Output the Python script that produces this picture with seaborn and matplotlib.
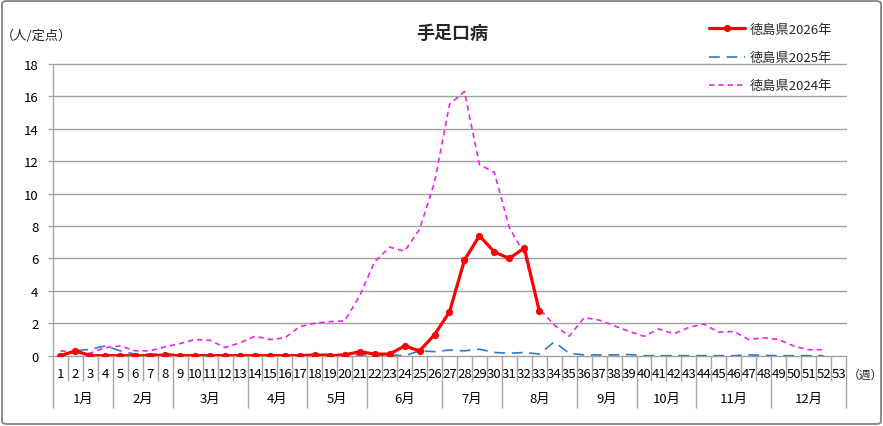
import matplotlib
matplotlib.use('Agg')
import matplotlib.pyplot as plt
from matplotlib.patches import FancyBboxPatch
import pandas as pd
import seaborn as sns

# ---------------- data ----------------
weeks = list(range(1, 54))
week_labels = [str(w) for w in weeks]
months = ['1月', '2月', '3月', '4月', '5月', '6月', '7月', '8月', '9月', '10月', '11月', '12月']
month_week_counts = [4, 4, 5, 4, 4, 5, 4, 5, 4, 4, 5, 5]
y_ticks = [0, 2, 4, 6, 8, 10, 12, 14, 16, 18]

series_names = ['徳島県2026年', '徳島県2025年', '徳島県2024年']

tokushima_2026 = [0, 0.3, 0, 0, 0, 0, 0, 0.05, 0, 0, 0, 0, 0, 0, 0, 0, 0, 0.05, 0, 0.05,
                  0.25, 0.1, 0.1, 0.6, 0.3, 1.3, 2.7, 5.9, 7.4, 6.4, 6.0, 6.65, 2.75]

tokushima_2025 = [0, 0.3, 0.4, 0.6, 0.3, 0.1, 0.1, 0.1, 0.05, 0.05, 0.05, 0.05, 0.05, 0.05,
                  0.05, 0.05, 0.05, 0.05, 0.1, 0.05, 0.05, 0.05, 0.05, 0.0, 0.3, 0.25, 0.35,
                  0.3, 0.4, 0.2, 0.15, 0.2, 0.1, 0.85, 0.15, 0.05, 0.05, 0.05, 0.07, 0, 0, 0,
                  0, 0, 0, 0, 0.05, 0.02, 0, 0, 0, 0]

tokushima_2024 = [0.3, 0.2, 0.15, 0.5, 0.6, 0.3, 0.3, 0.55, 0.75, 1.0, 0.95, 0.5, 0.8, 1.2,
                  1.0, 1.1, 1.8, 2.0, 2.1, 2.15, 3.7, 5.8, 6.7, 6.45, 7.8, 10.7, 15.5, 16.3,
                  11.8, 11.3, 7.9, 6.3, 2.9, 1.9, 1.2, 2.35, 2.2, 1.85, 1.5, 1.2, 1.65, 1.35,
                  1.75, 1.95, 1.45, 1.5, 1.0, 1.1, 1.0, 0.6, 0.37, 0.37]

# ---------------- style ----------------
sns.set_theme(style='white')
plt.rcParams['font.family'] = ['Noto Sans CJK JP', 'DejaVu Sans']

W, H = 883, 427
fig = plt.figure(figsize=(W / 100, H / 100), dpi=100)
fig.patch.set_facecolor('white')

x_left, x_right = 53, 846
y_top, y_bot = 65, 356.7
ax = fig.add_axes([x_left / W, 1 - y_bot / H, (x_right - x_left) / W, (y_bot - y_top) / H])
ax.set_facecolor('none')

grid_c = '#A0A0A0'
sep_c = '#A6A6A6'

df24 = pd.DataFrame({'week': weeks[:len(tokushima_2024)], 'value': tokushima_2024})
df25 = pd.DataFrame({'week': weeks[:len(tokushima_2025)], 'value': tokushima_2025})
df26 = pd.DataFrame({'week': weeks[:len(tokushima_2026)], 'value': tokushima_2026})

for y in y_ticks:
    ax.axhline(y, color=grid_c, lw=1.0, zorder=1, clip_on=False)

sns.lineplot(data=df24, x='week', y='value', ax=ax, color='#EE22EE', lw=1.2,
             linestyle=(0, (3.2, 2.4)), label=series_names[2], zorder=3)
sns.lineplot(data=df25, x='week', y='value', ax=ax, color='#2E7BBF', lw=1.2,
             linestyle=(0, (6.5, 4)), label=series_names[1], zorder=4)
sns.lineplot(data=df26, x='week', y='value', ax=ax, color='#FF0000', lw=2.3,
             marker='o', markersize=5.2, markeredgewidth=0, label=series_names[0], zorder=5)

ax.set_xlim(0.5, 53.5)
ax.set_ylim(0, 18)
for s in ax.spines.values():
    s.set_visible(False)
ax.set_xlabel('')
ax.set_ylabel('')
ax.set_xticks([])
ax.set_yticks(y_ticks)
ax.set_yticklabels([str(v) for v in y_ticks])
ax.tick_params(axis='y', length=3.5, width=0.9, color=grid_c, pad=7, labelsize=9.5,
               labelcolor='#000000', left=True)

# category axis separators
tr = ax.get_xaxis_transform()
ax_h = y_bot - y_top
week_sep_low = -(382 - y_bot) / ax_h
month_sep_low = -(408.5 - y_bot) / ax_h
bounds = [0]
for c in month_week_counts:
    bounds.append(bounds[-1] + c)
month_bounds = set(bounds)
for k in range(0, 54):
    low = month_sep_low if k in month_bounds else week_sep_low
    top = 1.0 if k == 0 else 0.0
    ax.vlines(k + 0.5, low, top, transform=tr, colors=sep_c, lw=1.0, clip_on=False, zorder=2)

week_lab_y = -(375 - y_bot) / ax_h
for w, lab in zip(weeks, week_labels):
    ax.text(w, week_lab_y, lab, transform=tr, ha='center', va='center', fontsize=9.5,
            color='#000000')
month_lab_y = -(399 - y_bot) / ax_h
for i, m in enumerate(months):
    mid = (bounds[i] + bounds[i + 1]) / 2 + 0.5
    ax.text(mid, month_lab_y, m, transform=tr, ha='center', va='center', fontsize=9.5,
            color='#000000')

fig.text(848 / W, 1 - 375 / H, '（週）', ha='left', va='center', fontsize=8.5)
fig.text(1 / W, 1 - 36 / H, '（人/定点）', ha='left', va='center', fontsize=9.5)
fig.text(452 / W, 1 - 33 / H, '手足口病', ha='center', va='center', fontsize=13,
         fontweight='bold')

# legend
handles, labels = ax.get_legend_handles_labels()
order = [labels.index(n) for n in series_names]
ax.legend([handles[i] for i in order], [labels[i] for i in order],
          loc='upper left', bbox_to_anchor=(709 / W, 1 - 24 / H),
          bbox_transform=fig.transFigure, frameon=False, fontsize=9.5,
          handlelength=2.7, handletextpad=0.35, labelspacing=1.15,
          borderpad=0, borderaxespad=0)

# figure border
border = FancyBboxPatch((2 / W, 2 / H), 1 - 4 / W, 1 - 4 / H,
                        boxstyle='round,pad=0,rounding_size=0.006',
                        transform=fig.transFigure, fill=False, ec='#8C8C8C', lw=1.4)
fig.patches.append(border)

fig.savefig('out.png', dpi=100)
